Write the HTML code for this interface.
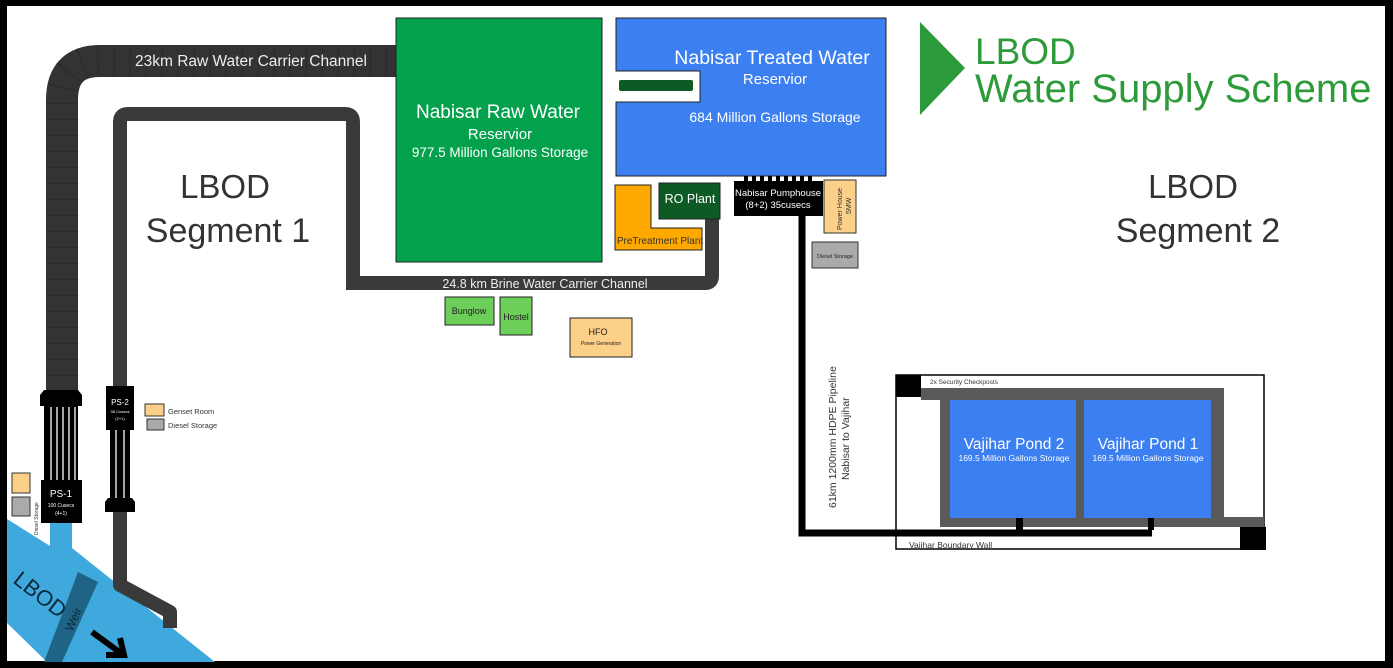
<!DOCTYPE html>
<html><head><meta charset="utf-8"><style>
html,body{margin:0;padding:0;background:#000;}
svg{display:block;font-family:"Liberation Sans","DejaVu Sans",sans-serif;}
</style></head><body>
<svg width="1393" height="668" viewBox="0 0 1393 668" xmlns="http://www.w3.org/2000/svg">
<rect x="0" y="0" width="1393" height="668" fill="#000"/>
<rect x="7" y="6" width="1378" height="655" fill="#fff"/>

<!-- river -->
<polygon points="7,519 50,546 50,523 72,523 72,548 215,662 47,662 7,623" fill="#3fa9de"/>
<polygon points="78,572 98,582 62,662 44,662" fill="#1f6486"/>
<text x="0" y="0" transform="translate(12,582) rotate(38)" font-size="22" fill="#0b2a3a">LBOD</text>
<text x="0" y="0" transform="translate(72,632) rotate(-65)" font-size="12" fill="#0b2a3a">Weir</text>
<path d="M92,632 L122,654 M106,655 L124,655 L120,638" stroke="#000" stroke-width="6" fill="none"/>

<!-- raw channel -->
<path d="M62,392 V100 Q62,61 100,61 H397" stroke="#333" stroke-width="32" fill="none"/>
<path d="M62,392 V100 Q62,61 100,61 H397" stroke="#222" stroke-width="32" fill="none" stroke-dasharray="1 15" opacity="0.5"/>
<text x="251" y="66" font-size="15.5" fill="#eee" text-anchor="middle">23km Raw Water Carrier Channel</text>

<!-- brine channel -->
<path d="M120,388 V122 Q120,114 128,114 H345 Q353,114 353,122 V283 H705 Q712,283 712,276 V219" stroke="#3a3a3a" stroke-width="14" fill="none"/>
<path d="M120,512 V585 L170,612 V628" stroke="#3a3a3a" stroke-width="14" fill="none" stroke-linejoin="round"/>
<text x="545" y="288" font-size="12.5" fill="#eee" text-anchor="middle">24.8 km Brine Water Carrier Channel</text>

<!-- PS-1 -->
<polygon points="44,390 78,390 82,395 82,406 40,406 40,395" fill="#000"/>
<rect x="44" y="404" width="34" height="78" fill="#000"/>
<g stroke="#fff" stroke-width="1.3"><line x1="51" y1="407" x2="51" y2="480"/><line x1="57" y1="407" x2="57" y2="480"/><line x1="63" y1="407" x2="63" y2="480"/><line x1="69" y1="407" x2="69" y2="480"/><line x1="75" y1="407" x2="75" y2="480"/></g>
<rect x="41" y="480" width="41" height="43" fill="#000"/>
<text x="61" y="497" font-size="10" fill="#fff" text-anchor="middle">PS-1</text>
<text x="61" y="507" font-size="5" fill="#fff" text-anchor="middle">100 Cusecs</text>
<text x="61" y="515" font-size="5" fill="#fff" text-anchor="middle">(4+1)</text>

<!-- PS-2 -->
<rect x="106" y="386" width="28" height="44" fill="#000"/>
<rect x="110" y="428" width="20" height="72" fill="#000"/>
<g stroke="#fff" stroke-width="1.3"><line x1="116" y1="430" x2="116" y2="498"/><line x1="124" y1="430" x2="124" y2="498"/></g>
<polygon points="108,498 132,498 135,502 135,512 105,512 105,502" fill="#000"/>
<text x="120" y="405" font-size="8" fill="#fff" text-anchor="middle">PS-2</text>
<text x="120" y="413" font-size="4" fill="#fff" text-anchor="middle">38 Cusecs</text>
<text x="120" y="420" font-size="4" fill="#fff" text-anchor="middle">(2+1)</text>
<rect x="145" y="404" width="19" height="12" fill="#fdd08a" stroke="#333"/>
<rect x="147" y="419" width="17" height="11" fill="#aaa" stroke="#333"/>
<text x="168" y="414" font-size="7.5" fill="#333">Genset Room</text>
<text x="168" y="428" font-size="7.5" fill="#333">Diesel Storage</text>
<rect x="12" y="473" width="18" height="20" fill="#fdd08a" stroke="#333"/>
<rect x="12" y="497" width="18" height="19" fill="#aaa" stroke="#333"/>
<text x="0" y="0" transform="translate(38,535) rotate(-90)" font-size="5" fill="#333">Diesel Storage</text>

<!-- segment labels -->
<text x="225" y="198" font-size="33" fill="#333" text-anchor="middle">LBOD</text>
<text x="228" y="242" font-size="34" fill="#333" text-anchor="middle">Segment 1</text>
<text x="1193" y="198" font-size="33" fill="#333" text-anchor="middle">LBOD</text>
<text x="1198" y="242" font-size="34" fill="#333" text-anchor="middle">Segment 2</text>

<!-- raw reservoir -->
<rect x="396" y="18" width="206" height="244" fill="#03a14c" stroke="#222"/>
<text x="498" y="118" font-size="19" fill="#fff" text-anchor="middle">Nabisar Raw Water</text>
<text x="500" y="139" font-size="15" fill="#fff" text-anchor="middle">Reservior</text>
<text x="500" y="157" font-size="13.5" fill="#fff" text-anchor="middle">977.5 Million Gallons Storage</text>

<!-- treated -->
<path d="M616,18 H886 V176 H616 V102 H700 V71 H616 Z" fill="#3b7ff0" stroke="#222"/>
<rect x="619" y="80" width="74" height="11" rx="2" fill="#0d5a25"/>
<text x="772" y="64" font-size="19.5" fill="#fff" text-anchor="middle">Nabisar Treated Water</text>
<text x="775" y="84" font-size="15" fill="#fff" text-anchor="middle">Reservior</text>
<text x="775" y="122" font-size="14" fill="#fff" text-anchor="middle">684 Million Gallons Storage</text>

<path d="M615,185 H651 V228 H702 V250 H615 Z" fill="#ffa800" stroke="#222"/>
<text x="660" y="244" font-size="10" fill="#333" text-anchor="middle">PreTreatment Plant</text>
<rect x="659" y="183" width="61" height="36" fill="#0d5a25" stroke="#222"/>
<text x="690" y="203" font-size="12.5" fill="#fff" text-anchor="middle">RO Plant</text>

<!-- pumphouse -->
<g fill="#000"><rect x="744" y="176" width="4" height="6"/><rect x="752" y="176" width="4" height="6"/><rect x="760" y="176" width="4" height="6"/><rect x="768" y="176" width="4" height="6"/><rect x="776" y="176" width="4" height="6"/><rect x="784" y="176" width="4" height="6"/><rect x="792" y="176" width="4" height="6"/><rect x="800" y="176" width="4" height="6"/><rect x="808" y="176" width="4" height="6"/></g>
<rect x="734" y="181" width="89" height="35" fill="#000"/>
<text x="778" y="196" font-size="9.5" fill="#fff" text-anchor="middle">Nabisar Pumphouse</text>
<text x="778" y="208" font-size="9.5" fill="#fff" text-anchor="middle">(8+2) 35cusecs</text>
<rect x="824" y="180" width="32" height="53" fill="#fdd08a" stroke="#333"/>
<text x="0" y="0" transform="translate(842,230) rotate(-90)" font-size="7" fill="#333">Power House</text>
<text x="0" y="0" transform="translate(851,214) rotate(-90)" font-size="7" fill="#333">5MW</text>
<rect x="812" y="242" width="46" height="26" fill="#aaa" stroke="#333"/>
<text x="835" y="258" font-size="5.5" fill="#222" text-anchor="middle">Diesel Storage</text>

<path d="M802,216 V533 H1152" stroke="#000" stroke-width="7" fill="none"/>
<text x="0" y="0" transform="translate(836,508) rotate(-90)" font-size="10.5" fill="#333">61km 1200mm HDPE Pipeline</text>
<text x="0" y="0" transform="translate(849,480) rotate(-90)" font-size="10.5" fill="#333">Nabisar to Vajihar</text>

<rect x="445" y="297" width="49" height="28" fill="#6ccf5a" stroke="#222"/>
<text x="469" y="314" font-size="9" fill="#222" text-anchor="middle">Bunglow</text>
<rect x="500" y="297" width="32" height="38" fill="#6ccf5a" stroke="#222"/>
<text x="516" y="320" font-size="9" fill="#222" text-anchor="middle">Hostel</text>
<rect x="570" y="318" width="62" height="39" fill="#fdd08a" stroke="#222"/>
<text x="598" y="335" font-size="9" fill="#222" text-anchor="middle">HFO</text>
<text x="601" y="345" font-size="5" fill="#222" text-anchor="middle">Power Generation</text>

<!-- Vajihar -->
<rect x="896" y="375" width="368" height="174" fill="none" stroke="#000" stroke-width="1.5"/>
<rect x="921" y="388" width="303" height="12" fill="#5a5a5a"/>
<rect x="940" y="388" width="284" height="139" fill="#5a5a5a"/>
<rect x="1224" y="517" width="40" height="10" fill="#5a5a5a"/>
<rect x="950" y="400" width="126" height="118" fill="#3b7ff0"/>
<rect x="1084" y="400" width="127" height="118" fill="#3b7ff0"/>
<rect x="896" y="375" width="25" height="22" fill="#000"/>
<rect x="1240" y="527" width="26" height="23" fill="#000"/>
<rect x="1016" y="518" width="7" height="12" fill="#000"/>
<rect x="1148" y="518" width="6" height="12" fill="#000"/>
<text x="930" y="384" font-size="6.5" fill="#333">2x Security Checkposts</text>
<text x="909" y="548" font-size="8.5" fill="#333">Vajihar Boundary Wall</text>
<text x="1014" y="449" font-size="15.5" fill="#fff" text-anchor="middle">Vajihar Pond 2</text>
<text x="1014" y="461" font-size="8.5" fill="#fff" text-anchor="middle">169.5 Million Gallons Storage</text>
<text x="1148" y="449" font-size="15.5" fill="#fff" text-anchor="middle">Vajihar Pond 1</text>
<text x="1148" y="461" font-size="8.5" fill="#fff" text-anchor="middle">169.5 Million Gallons Storage</text>

<!-- title -->
<polygon points="920,22 965,68 920,115" fill="#2a9a3a"/>
<text x="975" y="64" font-size="37" fill="#2e9b3a">LBOD</text>
<text x="975" y="102" font-size="40" fill="#2e9b3a">Water Supply Scheme</text>
</svg>
</body></html>
